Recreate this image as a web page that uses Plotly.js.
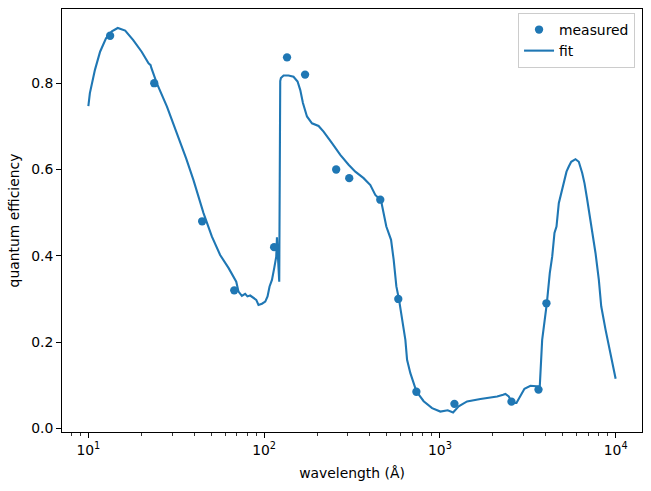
<!DOCTYPE html>
<html>
<head>
<meta charset="utf-8">
<script src="https://cdn.plot.ly/plotly-3.0.1.min.js"></script>
<style>html,body{margin:0;padding:0;background:#fff;}#chart{width:651px;height:491px;}</style>
</head>
<body>
<div id="chart"></div>
<script>
// measured points
const measuredWavelength = [13.3, 23.7, 44.4, 67.6, 114, 135, 171, 257, 305, 458, 580, 735, 1210, 2555, 3640, 4040];
const measuredQE = [0.91, 0.80, 0.48, 0.32, 0.42, 0.86, 0.82, 0.60, 0.58, 0.53, 0.30, 0.085, 0.057, 0.062, 0.09, 0.29];

// fitted curve
const fitWavelength = [10, 10.2, 10.9, 11.66, 12.6, 13.6, 14.7, 16.2, 18.0, 20.1, 22.0, 22.6, 22.8, 24.5, 28.0, 31.9, 36.0,
  39.6, 45.2, 50.4, 56.2, 62.7, 69.4, 71.5, 74.7, 78.0, 80.4, 83.3, 87.0, 90.2, 92.9, 97.2, 101.5, 104.6, 107.4,
  110.8, 114.2, 117.2, 118.3, 121.9, 123.5, 124.6, 129, 137.7, 147.0, 155.0, 160.6, 166.3, 175.3, 187.2, 204.1,
  217.9, 243.3, 271.3, 302.4, 330.3, 368.2, 402.1, 429.2, 462.6, 495.8, 527.5, 545.8, 565.5, 585.9, 609.3,
  636.3, 650.6, 679.3, 734.8, 808.6, 903, 1006, 1108, 1189, 1279, 1428, 1701, 2118, 2290, 2360, 2465, 2578,
  2727, 2873, 3028, 3277, 3577, 3701, 3819, 4060, 4220, 4355, 4488, 4608, 4749, 4900, 5070, 5253, 5414, 5588,
  5909, 6171, 6453, 6652, 6892, 7131, 7456, 7685, 8025, 8279, 8761, 9354, 10000];
const fitQE = [0.747, 0.777, 0.831, 0.873, 0.904, 0.92, 0.928, 0.922, 0.900, 0.873, 0.846, 0.842, 0.836, 0.80, 0.746, 0.684, 0.626,
  0.576, 0.499, 0.445, 0.402, 0.372, 0.340, 0.317, 0.307, 0.312, 0.306, 0.308, 0.302, 0.298, 0.286, 0.289, 0.294, 0.306, 0.329,
  0.344, 0.372, 0.398, 0.443, 0.340, 0.805, 0.812, 0.818, 0.818, 0.815, 0.804, 0.784, 0.754, 0.723, 0.707, 0.701,
  0.688, 0.661, 0.634, 0.611, 0.595, 0.580, 0.564, 0.541, 0.528, 0.468, 0.437, 0.391, 0.329, 0.298, 0.252,
  0.205, 0.159, 0.128, 0.086, 0.063, 0.047, 0.039, 0.042, 0.037, 0.051, 0.0625, 0.068, 0.074, 0.078, 0.080, 0.074, 0.059,
  0.059, 0.074, 0.092, 0.099, 0.097, 0.097, 0.205, 0.29, 0.36, 0.398, 0.453, 0.468, 0.522, 0.545, 0.568, 0.595, 0.607, 0.618,
  0.624, 0.618, 0.592, 0.568, 0.530, 0.491, 0.445, 0.406, 0.344, 0.283, 0.229, 0.175, 0.115];

const xTickVals = [10, 100, 1000, 10000];
const xTickText = ['10<sup>1</sup>', '10<sup>2</sup>', '10<sup>3</sup>', '10<sup>4</sup>'];
const xMinorVals = [8, 9, 20, 30, 40, 50, 60, 70, 80, 90, 200, 300, 400, 500, 600, 700, 800, 900,
  2000, 3000, 4000, 5000, 6000, 7000, 8000, 9000, 20000];
const yTickVals = [0, 0.2, 0.4, 0.6, 0.8];

const blue = '#1f77b4';
const font = {family: 'DejaVu Sans', size: 13.9, color: '#000'};

const traces = [
  {x: fitWavelength, y: fitQE, type: 'scatter', mode: 'lines', name: 'fit',
   line: {color: blue, width: 2.1}, legendrank: 2},
  {x: measuredWavelength, y: measuredQE, type: 'scatter', mode: 'markers', name: 'measured',
   marker: {color: blue, size: 8.3}, legendrank: 1}
];

const layout = {
  width: 651, height: 491,
  margin: {l: 62, r: 9, t: 9, b: 59},
  paper_bgcolor: '#fff', plot_bgcolor: '#fff',
  font: font,
  showlegend: true,
  legend: {x: 0.988, y: 0.9905, xanchor: 'right', yanchor: 'top',
    bordercolor: '#cccccc', borderwidth: 1, bgcolor: 'rgba(255,255,255,0.8)',
    font: font, tracegroupgap: 0},
  xaxis: {
    type: 'log', range: [0.85, 4.15],
    tickmode: 'array', tickvals: xTickVals, ticktext: xTickText,
    ticks: 'outside', ticklen: 4.9, tickwidth: 1, tickcolor: '#000',
    minor: {tickmode: 'array', tickvals: xMinorVals, ticks: 'outside', ticklen: 2.8, tickwidth: 0.8, tickcolor: '#000', showgrid: false},
    showgrid: false, zeroline: false,
    showline: true, linecolor: '#000', linewidth: 1, mirror: true,
    tickfont: font,
    title: {text: 'wavelength (Å)', font: font, standoff: 11}
  },
  yaxis: {
    range: [-0.0083, 0.972],
    tickmode: 'array', tickvals: yTickVals, tickformat: '.1f',
    ticks: 'outside', ticklen: 4.9, tickwidth: 1, tickcolor: '#000',
    showgrid: false, zeroline: false,
    showline: true, linecolor: '#000', linewidth: 1, mirror: true,
    tickfont: font,
    title: {text: 'quantum efficiency', font: font, standoff: 8}
  }
};

Plotly.newPlot('chart', traces, layout, {displayModeBar: false, staticPlot: true});
</script>
</body>
</html>
